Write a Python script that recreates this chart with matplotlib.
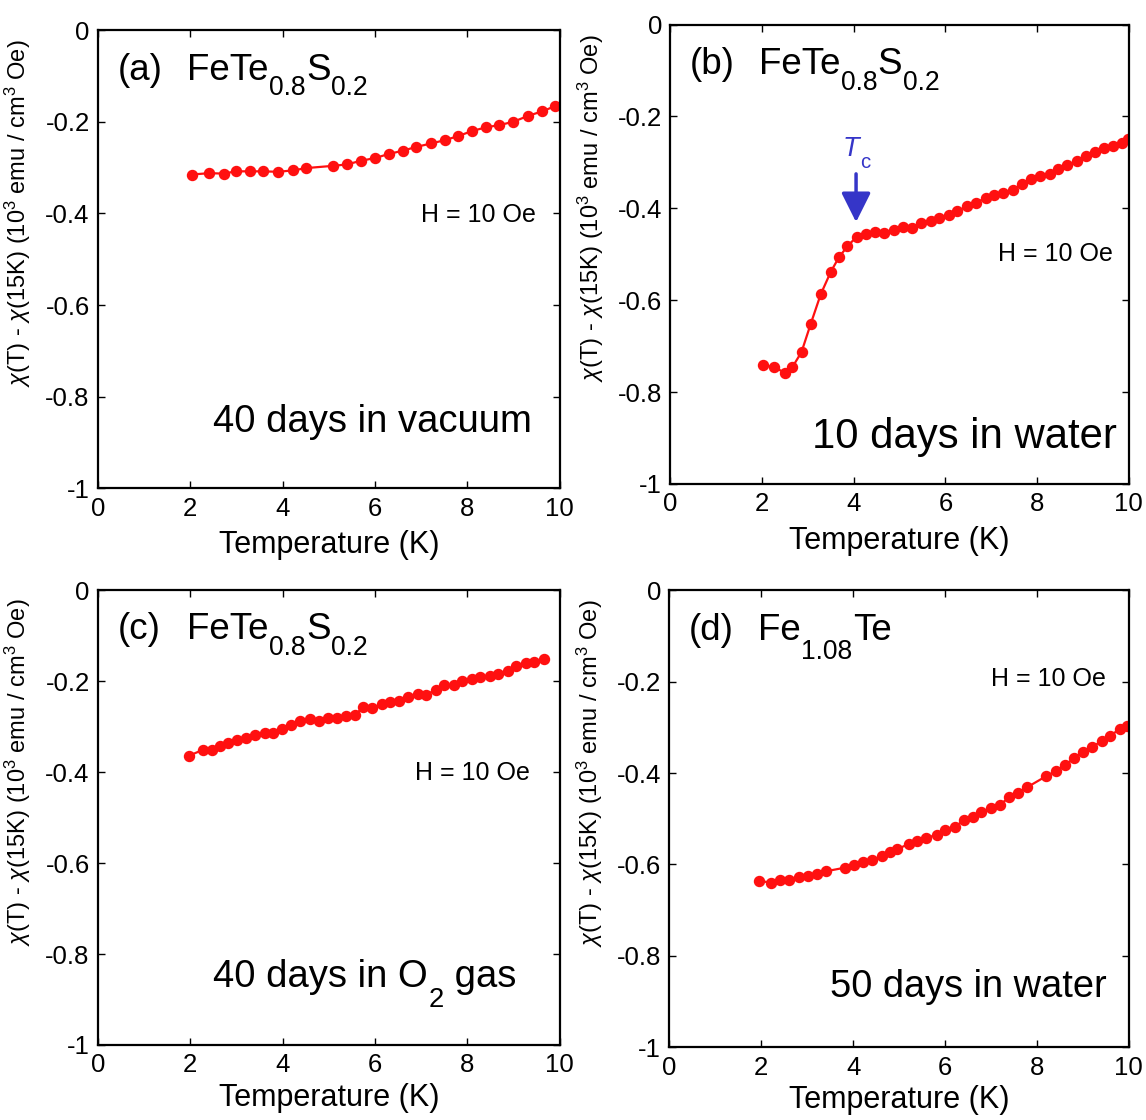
import numpy as np
import matplotlib
matplotlib.use("Agg")
import matplotlib.pyplot as plt
from matplotlib.ticker import FuncFormatter

plt.rcParams['font.family'] = ['Liberation Sans', 'DejaVu Sans']
plt.rcParams['mathtext.fontset'] = 'custom'
plt.rcParams['mathtext.rm'] = 'Liberation Sans'
plt.rcParams['mathtext.it'] = 'Liberation Sans:italic'
plt.rcParams['axes.unicode_minus'] = False

# (a) 40 days in vacuum
Ta = [2.03, 2.41, 2.73, 2.98, 3.29, 3.57, 3.89, 4.23, 4.5, 5.09, 5.39, 5.69, 6.0,
      6.3, 6.6, 6.88, 7.22, 7.51, 7.8, 8.1, 8.4, 8.69, 8.99, 9.31, 9.62, 9.89]
ya = [-0.315, -0.312, -0.313, -0.308, -0.308, -0.308, -0.309, -0.306, -0.301, -0.296,
      -0.293, -0.285, -0.279, -0.270, -0.263, -0.255, -0.247, -0.240, -0.231, -0.220,
      -0.212, -0.207, -0.200, -0.187, -0.177, -0.166]

# (b) 10 days in water
Tb = [2.02, 2.27, 2.49, 2.66, 2.86, 3.06, 3.28, 3.50, 3.68, 3.86, 4.06, 4.26, 4.46,
      4.67, 4.87, 5.08, 5.27, 5.47, 5.68, 5.87, 6.07, 6.26, 6.46, 6.67, 6.88, 7.07,
      7.26, 7.47, 7.66, 7.87, 8.07, 8.27, 8.46, 8.66, 8.86, 9.07, 9.26, 9.45, 9.65,
      9.85, 9.98]
yb = [-0.742, -0.746, -0.758, -0.746, -0.713, -0.652, -0.587, -0.538, -0.506, -0.483,
      -0.462, -0.457, -0.452, -0.454, -0.448, -0.440, -0.442, -0.433, -0.427, -0.420,
      -0.414, -0.406, -0.396, -0.388, -0.377, -0.370, -0.366, -0.360, -0.347, -0.336,
      -0.329, -0.326, -0.315, -0.306, -0.298, -0.286, -0.277, -0.268, -0.264, -0.257,
      -0.249]

# (c) 40 days in O2 gas
Tc = [1.97, 2.27, 2.46, 2.64, 2.81, 3.00, 3.20, 3.41, 3.61, 3.80, 3.99, 4.18, 4.38,
      4.58, 4.78, 4.98, 5.17, 5.38, 5.57, 5.74, 5.94, 6.14, 6.33, 6.52, 6.72, 6.92,
      7.11, 7.31, 7.50, 7.70, 7.89, 8.09, 8.28, 8.48, 8.67, 8.87, 9.06, 9.26, 9.45,
      9.65]
yc = [-0.364, -0.351, -0.352, -0.342, -0.336, -0.330, -0.324, -0.319, -0.314, -0.314,
      -0.305, -0.297, -0.287, -0.283, -0.288, -0.280, -0.280, -0.277, -0.274, -0.257,
      -0.260, -0.250, -0.246, -0.243, -0.235, -0.228, -0.230, -0.219, -0.208, -0.209,
      -0.199, -0.195, -0.191, -0.189, -0.184, -0.178, -0.166, -0.160, -0.158, -0.152]

# (d) Fe1.08Te, 50 days in water
Td = [1.96, 2.22, 2.41, 2.61, 2.83, 3.01, 3.22, 3.41, 3.83, 4.03, 4.21, 4.42, 4.62,
      4.81, 4.95, 5.22, 5.40, 5.59, 5.83, 6.01, 6.22, 6.41, 6.60, 6.79, 7.00, 7.20,
      7.40, 7.59, 7.79, 8.20, 8.41, 8.61, 8.80, 9.01, 9.20, 9.41, 9.60, 9.80, 9.97]
yd = [-0.636, -0.640, -0.635, -0.635, -0.628, -0.625, -0.622, -0.615, -0.607, -0.602,
      -0.595, -0.590, -0.582, -0.573, -0.567, -0.555, -0.548, -0.542, -0.535, -0.524,
      -0.519, -0.502, -0.497, -0.486, -0.476, -0.470, -0.452, -0.444, -0.431, -0.407,
      -0.396, -0.383, -0.368, -0.354, -0.343, -0.330, -0.319, -0.303, -0.298]

tags = ['(a)', '(b)', '(c)', '(d)']
# formula pieces: (text, is_subscript)
formulas = [[('FeTe', 0), ('0.8', 1), ('S', 0), ('0.2', 1)],
            [('FeTe', 0), ('0.8', 1), ('S', 0), ('0.2', 1)],
            [('FeTe', 0), ('0.8', 1), ('S', 0), ('0.2', 1)],
            [('Fe', 0), ('1.08', 1), ('Te', 0)]]
formula_drop = [0.42, 0.42, 0.42, 0.52]
conditions = [[('40 days in vacuum', 0)],
              [('10 days in water', 0)],
              [('40 days in O', 0), ('2', 1), (' gas', 0)],
              [('50 days in water', 0)]]
cond_size = [27.5, 30.2, 27.5, 27.4]
field_text = 'H = 10 Oe'
field_pos = [(9.48, -0.404), (9.65, -0.50), (9.35, -0.402), (9.5, -0.195)]
cond_pos = [(2.49, -0.877), (3.08, -0.921), (2.49, -0.873), (3.5, -0.89)]

ylab = r'$\chi$(T) - $\chi$(15K) (10$^3$ emu / cm$^3$ Oe)'


def chem(ax, x, y, parts, size, drop=0.45, ratio=0.72, sub_style='normal', **kw):
    # pieces written one after the other; drop = baseline shift of subscripts in em
    off = drop * size - 0.212 * size * (1 - ratio)
    main = ax.text(x, y, parts[0][0], fontsize=size, ha='left', va='baseline', **kw)
    prev = main
    for s, sub in parts[1:]:
        if sub:
            kk = dict(kw)
            kk['style'] = sub_style
            t = ax.annotate(s, xy=(1, 0), xycoords=(prev, main),
                            xytext=(0.5, -off), textcoords='offset points',
                            fontsize=size * ratio, ha='left', va='bottom', **kk)
        else:
            t = ax.annotate(s, xy=(1, 0), xycoords=(prev, main),
                            fontsize=size, ha='left', va='bottom', **kw)
        prev = t
    return main


fig = plt.figure(figsize=(11.46, 11.2), dpi=100)
rects = [[0.0855, 0.564, 0.403, 0.409],
         [0.585, 0.568, 0.400, 0.410],
         [0.0855, 0.067, 0.403, 0.406],
         [0.584, 0.065, 0.401, 0.408]]
data = [(Ta, ya), (Tb, yb), (Tc, yc), (Td, yd)]


def fmt(v, pos):
    if abs(v) < 1e-9:
        return '0'
    if abs(v + 1) < 1e-9:
        return '-1'
    return '%.1f' % v


for i in range(4):
    ax = fig.add_axes(rects[i])
    x, y = data[i]
    ax.plot(x, y, '-o', color='#ff1010', ms=7.2, lw=1.6)
    ax.set_xlim(0, 10)
    ax.set_ylim(-1, 0)
    ax.set_xticks(np.arange(0, 11, 2))
    ax.set_yticks(np.arange(-1, 0.01, 0.2))
    ax.yaxis.set_major_formatter(FuncFormatter(fmt))
    ax.tick_params(direction='in', length=5, width=1, top=True, right=True,
                   labelsize=18.5, pad=6)
    for s in ax.spines.values():
        s.set_linewidth(1.6)
    ax.set_xlabel('Temperature (K)', fontsize=22, labelpad=7 if i < 2 else 4)
    ax.set_ylabel(ylab, fontsize=17)
    ax.yaxis.set_label_coords(-0.14, 0.6)
    ax.text(0.43, -0.108, tags[i], fontsize=26.5, va='baseline', ha='left')
    chem(ax, 1.93, -0.108, formulas[i], 26.5, drop=formula_drop[i])
    ax.text(field_pos[i][0], field_pos[i][1], field_text, fontsize=18,
            ha='right', va='center')
    chem(ax, cond_pos[i][0], cond_pos[i][1], conditions[i], cond_size[i], drop=0.52)
    if i == 1:
        ax.annotate('', xy=(4.05, -0.43), xytext=(4.05, -0.325),
                    arrowprops=dict(arrowstyle='-|>,head_width=0.45,head_length=0.9',
                                    lw=2.5, color='#3535c8', mutation_scale=20,
                                    shrinkA=0, shrinkB=0))
        chem(ax, 3.76, -0.285, [('T', 0), ('c', 1)], 19.5, drop=0.45, ratio=0.75,
             color='#3535c8', style='italic')

fig.savefig('out.png', dpi=100)
